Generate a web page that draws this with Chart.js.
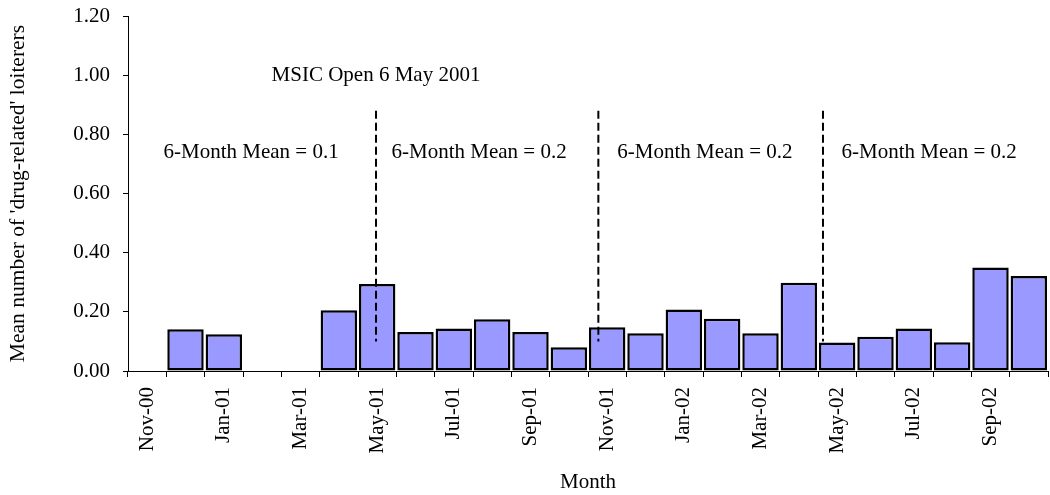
<!DOCTYPE html>
<html>
<head>
<meta charset="utf-8">
<script src="https://cdn.jsdelivr.net/npm/chart.js@4/dist/chart.umd.min.js"></script>
<style>
    html, body { margin: 0; padding: 0; background: #fff; }
    #wrap { width: 1050px; height: 495px; position: relative; }
</style>
</head>
<body>
<div id="wrap"><canvas id="mainChart"></canvas></div>
<script>
// Monthly categories, Nov-00 .. Oct-02
const months = [
    'Nov-00', 'Dec-00', 'Jan-01', 'Feb-01', 'Mar-01', 'Apr-01',
    'May-01', 'Jun-01', 'Jul-01', 'Aug-01', 'Sep-01', 'Oct-01',
    'Nov-01', 'Dec-01', 'Jan-02', 'Feb-02', 'Mar-02', 'Apr-02',
    'May-02', 'Jun-02', 'Jul-02', 'Aug-02', 'Sep-02', 'Oct-02'
];

// Mean number of 'drug-related' loiterers
const loiterers = [
    null, 0.141, 0.124, null, null, 0.205,
    0.294, 0.132, 0.144, 0.175, 0.132, 0.080,
    0.148, 0.128, 0.208, 0.177, 0.128, 0.298,
    0.096, 0.116, 0.144, 0.097, 0.350, 0.321
];

const yTicks = [0, 0.2, 0.4, 0.6, 0.8, 1.0, 1.2];

// Dashed period dividers (x in month-index units)
const dividerX = [5.97, 11.77, 17.63];
const dividerTop = [0.88, 0.88, 0.88];
const dividerBottom = [0.10, 0.10, 0.10];

// Text notes
const noteText = ['MSIC Open 6 May 2001', '6-Month Mean = 0.1', '6-Month Mean = 0.2', '6-Month Mean = 0.2', '6-Month Mean = 0.2'];
const noteX = [5.97, 2.71, 8.66, 14.55, 20.4];
const noteY = [1.0, 0.74, 0.74, 0.74, 0.74];

const SERIF = '"Liberation Serif", "DejaVu Serif", serif';

const notesPlugin = {
    id: 'notes',
    afterDatasetsDraw(chart) {
        const { ctx, scales } = chart;
        ctx.save();
        ctx.font = '21px ' + SERIF;
        ctx.fillStyle = '#000';
        ctx.textAlign = 'center';
        ctx.textBaseline = 'middle';
        noteText.forEach((t, i) => {
            ctx.fillText(t, scales.xl.getPixelForValue(noteX[i]), scales.y.getPixelForValue(noteY[i]));
        });
        ctx.restore();
    }
};

// no auto padding from the axes, the layout padding decides the plot box
function noPad(s) {
    s.paddingTop = 0;
    s.paddingBottom = 0;
    s.paddingLeft = 0;
    s.paddingRight = 0;
}

const dividerSets = dividerX.map((x, i) => ({
    type: 'line',
    xAxisID: 'xl',
    data: [{ x: x, y: dividerTop[i] }, { x: x, y: dividerBottom[i] }],
    borderColor: '#000',
    borderWidth: 2,
    borderDash: [8, 4],
    pointRadius: 0,
    fill: false,
    order: 1
}));

new Chart(document.getElementById('mainChart'), {
    type: 'bar',
    plugins: [notesPlugin],
    data: {
        labels: months,
        datasets: [{
            label: 'Loiterers',
            data: loiterers,
            backgroundColor: '#9999ff',
            borderColor: '#000',
            borderWidth: 2.5,
            borderSkipped: false,
            grouped: false,
            categoryPercentage: 1,
            barPercentage: 0.95,
            order: 2
        }, ...dividerSets]
    },
    options: {
        responsive: true,
        maintainAspectRatio: false,
        animation: false,
        layout: { padding: { top: 16, right: 2, left: 0, bottom: 0 } },
        plugins: {
            legend: { display: false },
            tooltip: { enabled: false }
        },
        scales: {
            x: {
                type: 'category',
                grid: { drawOnChartArea: false, color: '#000', tickLength: 6 },
                border: { display: true, color: '#000', width: 1 },
                ticks: {
                    color: '#000',
                    font: { family: SERIF, size: 21 },
                    minRotation: 90,
                    maxRotation: 90,
                    autoSkip: false,
                    padding: 10,
                    callback: (v, i) => (i % 2 === 0 ? months[i] : '')
                },
                title: {
                    display: true,
                    text: 'Month',
                    color: '#000',
                    font: { family: SERIF, size: 21 },
                    padding: { top: 0, bottom: 0 }
                },
                afterFit: (s) => { s.height = 124; noPad(s); }
            },
            xl: {
                type: 'linear',
                display: false,
                offset: false,
                min: -0.5,
                max: 23.5
            },
            y: {
                min: 0,
                max: 1.2,
                grid: { drawOnChartArea: false, color: '#000', tickLength: 5 },
                border: { display: true, color: '#000', width: 1 },
                afterBuildTicks: (s) => { s.ticks = yTicks.map(v => ({ value: v })); },
                ticks: {
                    color: '#000',
                    font: { family: SERIF, size: 21 },
                    padding: 13,
                    callback: (v) => Number(v).toFixed(2)
                },
                title: {
                    display: true,
                    text: "Mean number of 'drug-related' loiterers",
                    color: '#000',
                    font: { family: SERIF, size: 21.5 },
                    padding: { top: 5, bottom: 0 }
                },
                afterFit: (s) => { s.width = 128; noPad(s); }
            }
        }
    }
});
</script>
</body>
</html>
